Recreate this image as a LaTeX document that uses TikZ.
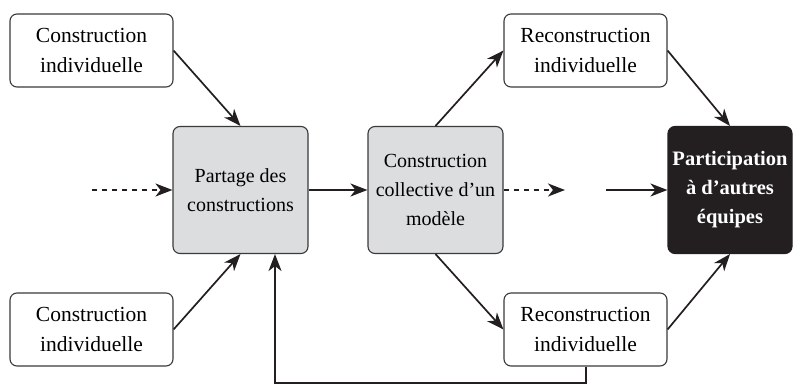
\documentclass[tikz,border=0pt]{standalone}
\usepackage{fontspec}
\setmainfont{Liberation Serif}
\usetikzlibrary{arrows.meta, calc}
\definecolor{boxgray}{HTML}{DCDDDE}
\definecolor{boxdark}{HTML}{231F20}
\definecolor{edgegray}{HTML}{3A3A3A}

\begin{document}
\begin{tikzpicture}[
    x=1pt, y=-1pt,
    whitebox/.style={
        draw=edgegray, line width=1.1pt, rounded corners=7pt, fill=white,
        minimum width=163pt, minimum height=73pt, inner sep=0pt,
        align=center, font=\fontsize{21.5}{30}\selectfont
    },
    graybox/.style={
        whitebox, fill=boxgray, minimum width=135pt, minimum height=127pt,
        font=\fontsize{20}{29}\selectfont
    },
    darkbox/.style={
        whitebox, draw=boxdark, fill=boxdark, text=white,
        minimum width=124pt, minimum height=127pt,
        font=\fontsize{20.5}{29}\selectfont\bfseries
    },
    flow/.style={
        -{Stealth[length=17pt, width=13pt, inset=5pt]}, line width=1.7pt, color=boxdark
    },
    flowdash/.style={
        flow, dash pattern=on 5pt off 5pt
    }
]

% Page frame, pixel coordinates
\useasboundingbox (0,0) rectangle (796,385);

% Left column
\node[whitebox] (ind1) at (91.5, 50.5) {Construction\\individuelle};
\node[whitebox] (ind2) at (91.5, 329.5) {Construction\\individuelle};

% Middle column
\node[graybox] (partage) at (240.5, 190) {Partage des\\constructions};
\node[graybox] (collect) at (435.5, 190) {Construction\\collective d'un\\modèle};

% Right column
\node[whitebox] (reco1) at (585.5, 50.5) {Reconstruction\\individuelle};
\node[whitebox] (reco2) at (585.5, 329.5) {Reconstruction\\individuelle};
\node[darkbox] (equipes) at (730, 190) {Participation\\à d'autres\\équipes};

% Free ends of the open arrows
\coordinate (instart) at (92, 190);
\coordinate (outend) at (565, 190);
\coordinate (outstart) at (606, 190);
\coordinate (loopR) at (586, 383);
\coordinate (loopL) at (275, 383);

% Connectors
\draw[flowdash] (instart) -- (partage.west);
\draw[flow] (partage.east) -- (collect.west);
\draw[flowdash] (collect.east) -- (outend);
\draw[flow] (outstart) -- (equipes.west);

\draw[flow] (ind1.east) -- (partage.north);
\draw[flow] (ind2.east) -- (partage.south);

\draw[flow] (collect.north) -- (reco1.west);
\draw[flow] (collect.south) -- (reco2.west);

\draw[flow] (reco1.east) -- (equipes.north);
\draw[flow] (reco2.east) -- (equipes.south);

% Feedback loop
\draw[flow] (reco2.south -| loopR) -- (loopR) -- (loopL)
    -- (partage.south -| loopL);

\end{tikzpicture}
\end{document}
